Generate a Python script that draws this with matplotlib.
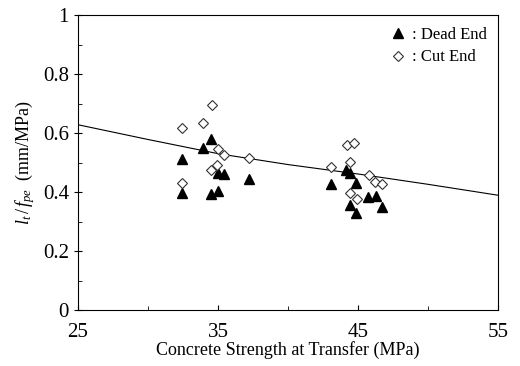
import matplotlib
matplotlib.use('Agg')
import matplotlib.pyplot as plt

# Dead end (filled triangles)
dead_x = [32.4, 32.4, 33.9, 34.5, 34.5, 35.0, 35.0, 35.4, 37.2,
          43.1, 44.1, 44.4, 44.85, 44.4, 44.85, 45.7, 46.25, 46.7]
dead_y = [0.511, 0.398, 0.55, 0.58, 0.393, 0.403, 0.466, 0.46, 0.444,
          0.426, 0.475, 0.466, 0.432, 0.356, 0.33, 0.384, 0.386, 0.35]

# Cut end (open diamonds)
cut_x = [32.4, 32.4, 33.9, 34.55, 35.0, 35.4, 34.5, 34.9, 37.2,
         43.1, 44.2, 44.7, 44.4, 44.4, 44.9, 45.8, 46.2, 46.7]
cut_y = [0.616, 0.43, 0.633, 0.695, 0.545, 0.525, 0.475, 0.49, 0.514,
         0.486, 0.56, 0.565, 0.503, 0.395, 0.375, 0.458, 0.435, 0.426]

# trend line
line_x = [25, 30, 35, 40, 45, 50, 55]
line_y = [0.628, 0.578, 0.530, 0.493, 0.461, 0.426, 0.389]

x_ticks = [25, 35, 45, 55]
x_minor = [30, 40, 50]
y_ticks = [0, 0.2, 0.4, 0.6, 0.8, 1]
y_labels = ['0', '0.2', '0.4', '0.6', '0.8', '1']
y_minor = [0.1, 0.3, 0.5, 0.7, 0.9]

plt.rcParams['font.family'] = ['Liberation Serif', 'DejaVu Serif']
plt.rcParams['mathtext.fontset'] = 'custom'
plt.rcParams['mathtext.it'] = 'Liberation Serif:italic'
plt.rcParams['mathtext.rm'] = 'Liberation Serif'

fig = plt.figure(figsize=(5.2, 3.66), dpi=100)
ax = fig.add_axes([0.15, 0.153, 0.808, 0.806])

ax.plot(line_x, line_y, color='black', linewidth=0.8)
ax.plot(dead_x, dead_y, linestyle='none', marker='^', markersize=7,
        color='black', label=': Dead End')
ax.plot(cut_x, cut_y, linestyle='none', marker='D', markersize=5.5,
        markerfacecolor='white', markeredgecolor='#333333',
        markeredgewidth=0.8, label=': Cut End')

ax.set_xlim(25, 55)
ax.set_ylim(0, 1)
ax.set_xticks(x_ticks)
ax.set_xticks(x_minor, minor=True)
ax.set_yticks(y_ticks)
ax.set_yticklabels(y_labels)
ax.set_yticks(y_minor, minor=True)
ax.tick_params(which='both', direction='in', labelsize=15)
ax.tick_params(axis='x', which='major', pad=9)
ax.tick_params(axis='y', which='major', direction='inout', length=6)
ax.tick_params(which='minor', length=3)

ax.set_xlabel('Concrete Strength at Transfer (MPa)', fontsize=13, labelpad=0)
ax.set_ylabel(r'$l_t\,/\,f_{pe}$  (mm/MPa)', fontsize=13, labelpad=4)

ax.legend(loc='upper right', frameon=False, fontsize=12,
          handletextpad=0.2, borderaxespad=0.3, labelspacing=0.4,
          handlelength=1.2)

plt.savefig('out.png', dpi=100)
